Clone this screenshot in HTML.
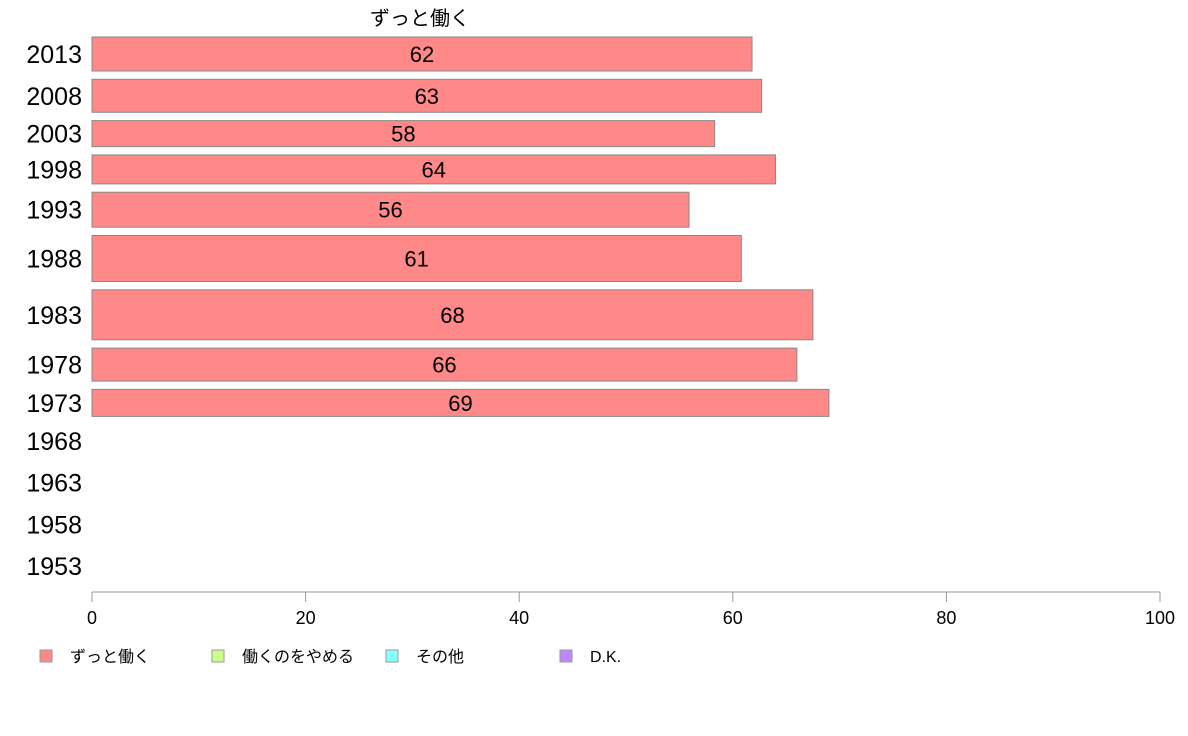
<!DOCTYPE html>
<html><head><meta charset="utf-8">
<style>
html,body{margin:0;padding:0;background:#fff;}
svg{display:block;font-family:"Liberation Sans","Noto Sans CJK JP",sans-serif;}
</style></head>
<body>
<svg id="chart" width="1188" height="736" viewBox="0 0 1188 736">
<text x="420" y="25" text-anchor="middle" font-size="20" fill="#000">ずっと働く</text>
<g id="bars"></g>
<g id="axis"></g>
<g id="legend"></g>
</svg>
<script>
const years = ["2013","2008","2003","1998","1993","1988","1983","1978","1973"];
const values = [61.8,62.7,58.3,64.0,55.9,60.8,67.5,66.0,69.0];
const bandWeights = [34,33,26,29,35,46,50,33,27];
const emptyYears = ["1968","1963","1958","1953"];
const ticks = [0,20,40,60,80,100];
const legendLabels = ["ずっと働く","働くのをやめる","その他","D.K."];
const legendColors = ["#ff8888","#ccff88","#88ffff","#bb88ff"];

const NS="http://www.w3.org/2000/svg";
const x0=92,x1=1160;
const xs=v=>x0+(v/100)*(x1-x0);
function mk(tag,attrs,parent){const e=document.createElementNS(NS,tag);for(const k in attrs)e.setAttribute(k,attrs[k]);parent.appendChild(e);return e;}
const gb=document.getElementById('bars');
let y=37; const gap=8.3;
years.forEach((yr,i)=>{
  const h=bandWeights[i];
  const r=mk('rect',{x:x0,y:y,width:xs(values[i])-x0,height:h,fill:'#ff8888',stroke:'#888','stroke-width':1},gb);
  
  
  const t=mk('text',{x:(x0+xs(values[i]))/2,y:y+h/2+8,'text-anchor':'middle','font-size':22,fill:'#000'},gb);
  t.textContent=Math.round(values[i]);
  
  
  const l=mk('text',{x:82,y:y+h/2+9,'text-anchor':'end','font-size':25,fill:'#000'},gb);
  l.textContent=yr;
  
  
  y+=h+gap;
});
let ey=441;
emptyYears.forEach(yr=>{
  const l=mk('text',{x:82,y:ey+9,'text-anchor':'end','font-size':25,fill:'#000'},gb);
  l.textContent=yr;
  
  
  ey+=41.7;
});
const ga=document.getElementById('axis');
const ax=mk('line',{x1:x0,y1:592,x2:x1,y2:592,stroke:'#999','stroke-width':1},ga);


ticks.forEach(t=>{
  const tl=mk('line',{x1:xs(t),y1:592,x2:xs(t),y2:602,stroke:'#999','stroke-width':1},ga);
  
  
  const tx=mk('text',{x:xs(t),y:624,'text-anchor':'middle','font-size':18,fill:'#000'},ga);
  tx.textContent=t;
  
  
});
const gl=document.getElementById('legend');
const lx=[40,212,386,560];
legendLabels.forEach((lab,i)=>{
  const s=mk('rect',{x:lx[i],y:650,width:12,height:12,fill:legendColors[i],stroke:'#999','stroke-width':1},gl);
  
  
  const t=mk('text',{x:lx[i]+30,y:662,'font-size':16,fill:'#000'},gl);
  t.textContent=lab;
  
  
});
</script>
</body></html>
